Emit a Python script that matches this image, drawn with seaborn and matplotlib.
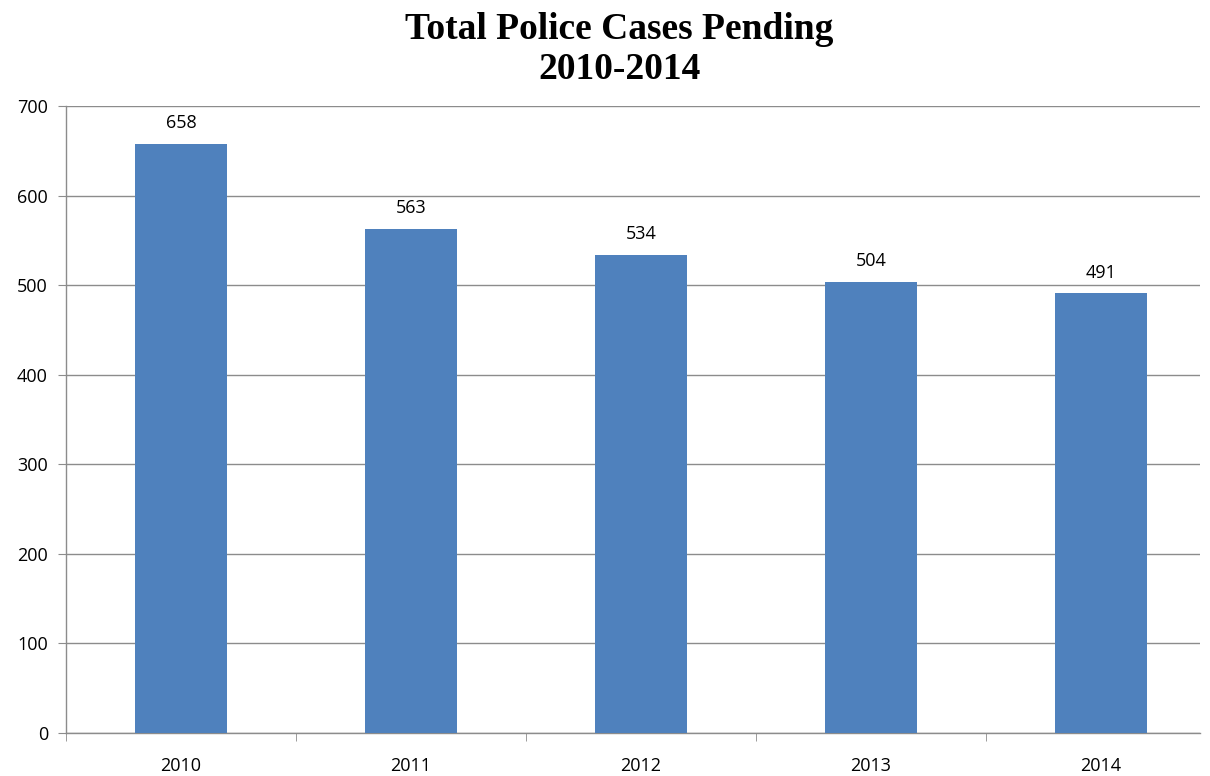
import matplotlib
matplotlib.use("Agg")
import matplotlib.pyplot as plt
import seaborn as sns
import pandas as pd
import numpy as np

years = ["2010", "2011", "2012", "2013", "2014"]
cases = [658, 563, 534, 504, 491]

sns.set_style("white")
plt.rcParams['font.family'] = ['Open Sans', 'DejaVu Sans']
plt.rcParams['text.color'] = 'black'
plt.rcParams['xtick.labelcolor'] = 'black'
plt.rcParams['ytick.labelcolor'] = 'black'

df = pd.DataFrame({"year": years, "cases": cases})

fig = plt.figure(figsize=(12.1, 7.76), dpi=100)
ax = fig.add_axes([66/1210, 1-733/776, (1200-66)/1210, (733-106)/776])

sns.barplot(data=df, x="year", y="cases", color="#4F81BD", saturation=1,
            width=0.40, linewidth=0, ax=ax, zorder=3)

ax.set_yticks(np.arange(0, 701, 100))
ax.set_xticks(np.arange(-0.5, len(years) - 1, 1), minor=True)
ax.set_ylim(0, 700)
ax.set_xlim(-0.5, (1200-66)/230 - 0.5)
ax.yaxis.grid(True, color="#8c8c8c", linewidth=1, zorder=0)
ax.set_axisbelow(True)
ax.set_xlabel("")
ax.set_ylabel("")

for s in ["top", "right"]:
    ax.spines[s].set_visible(False)
for s in ["left", "bottom"]:
    ax.spines[s].set_color("#8c8c8c")
    ax.spines[s].set_linewidth(1)

ax.tick_params(axis="y", which="major", direction="out", length=6, color="#8c8c8c",
               labelsize=13, pad=7, left=True)
ax.tick_params(axis="x", which="major", length=0, labelsize=13, pad=17)
ax.tick_params(axis="x", which="minor", direction="out", length=6, color="#8c8c8c", bottom=True)

for i, v in enumerate(cases):
    ax.text(i, v + 13, str(v), ha="center", va="bottom", fontsize=13)

fig.text(0.512, 0.985, "Total Police Cases Pending\n2010-2014", ha="center", va="top",
         fontsize=27, fontweight="bold", family="Liberation Serif", linespacing=1.19)

fig.savefig("out.png", dpi=100)
